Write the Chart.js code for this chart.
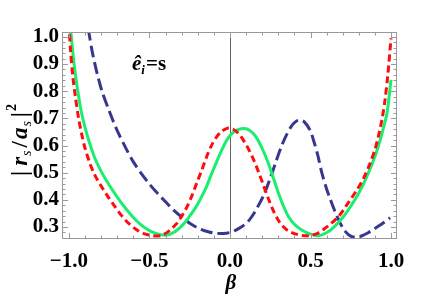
<!DOCTYPE html>
<html><head><meta charset="utf-8">
<script src="https://cdn.jsdelivr.net/npm/chart.js@4/dist/chart.umd.min.js"></script>
<style>html,body{margin:0;padding:0;background:#fff}#wrap{width:429px;height:298px}</style>
</head><body><div id="wrap"><canvas id="c" width="429" height="298"></canvas></div>
<script>
// ---- data ----
const redBeta = [-1.0, -0.99, -0.975, -0.96, -0.94, -0.92, -0.9, -0.87, -0.84, -0.80, -0.76, -0.72, -0.673, -0.63, -0.58, -0.53, -0.48, -0.45, -0.42, -0.38, -0.331, -0.3, -0.269, -0.238, -0.207, -0.175, -0.145, -0.115, -0.083, -0.05, -0.015, 0.02, 0.05, 0.083, 0.115, 0.145, 0.176, 0.207, 0.238, 0.269, 0.3, 0.33, 0.36, 0.4, 0.45, 0.49, 0.54, 0.58, 0.63, 0.683, 0.73, 0.787, 0.83, 0.87, 0.9, 0.921, 0.945, 0.963, 0.98, 1.0];
const redVal  = [1.05, 0.95, 0.85, 0.78, 0.70, 0.64, 0.59, 0.535, 0.492, 0.451, 0.414, 0.38, 0.342, 0.314, 0.29, 0.275, 0.268, 0.267, 0.27, 0.285, 0.313, 0.34, 0.372, 0.413, 0.461, 0.51, 0.559, 0.6, 0.632, 0.653, 0.664, 0.66, 0.646, 0.62, 0.587, 0.55, 0.505, 0.455, 0.405, 0.36, 0.325, 0.302, 0.287, 0.276, 0.269, 0.268, 0.276, 0.291, 0.314, 0.345, 0.385, 0.436, 0.48, 0.535, 0.585, 0.633, 0.7, 0.77, 0.86, 0.995];

const greenBeta = [-0.99, -0.97, -0.95, -0.92, -0.88, -0.84, -0.80, -0.75, -0.70, -0.65, -0.60, -0.55, -0.50, -0.45, -0.40, -0.35, -0.29, -0.25, -0.207, -0.175, -0.145, -0.115, -0.083, -0.05, -0.02, 0.01, 0.04, 0.07, 0.1, 0.13, 0.155, 0.176, 0.207, 0.238, 0.27, 0.3, 0.33, 0.362, 0.4, 0.445, 0.5, 0.548, 0.6, 0.642, 0.7, 0.745, 0.8, 0.849, 0.9, 0.93, 0.955, 0.975, 1.0];
const greenVal  = [1.03, 0.91, 0.82, 0.715, 0.625, 0.555, 0.505, 0.455, 0.41, 0.37, 0.335, 0.307, 0.287, 0.275, 0.27, 0.28, 0.31, 0.34, 0.378, 0.413, 0.45, 0.495, 0.54, 0.585, 0.62, 0.643, 0.656, 0.662, 0.662, 0.652, 0.637, 0.618, 0.58, 0.535, 0.48, 0.426, 0.38, 0.34, 0.31, 0.289, 0.274, 0.268, 0.279, 0.298, 0.335, 0.372, 0.425, 0.485, 0.56, 0.615, 0.67, 0.72, 0.842];

const blueBeta = [-0.88, -0.85, -0.8, -0.745, -0.7, -0.642, -0.6, -0.55, -0.5, -0.45, -0.4, -0.35, -0.29, -0.24, -0.186, -0.13, -0.083, -0.04, 0.0, 0.031, 0.07, 0.104, 0.135, 0.17, 0.21, 0.25, 0.285, 0.315, 0.345, 0.38, 0.41, 0.435, 0.46, 0.497, 0.52, 0.545, 0.57, 0.6, 0.621, 0.65, 0.683, 0.71, 0.74, 0.776, 0.82, 0.86, 0.89, 0.94, 0.994];
const blueVal  = [1.03, 0.93, 0.81, 0.72, 0.655, 0.585, 0.54, 0.497, 0.458, 0.424, 0.393, 0.362, 0.332, 0.31, 0.293, 0.282, 0.277, 0.276, 0.28, 0.287, 0.3, 0.315, 0.338, 0.372, 0.418, 0.48, 0.54, 0.59, 0.632, 0.67, 0.689, 0.694, 0.688, 0.657, 0.617, 0.565, 0.5, 0.44, 0.405, 0.36, 0.316, 0.288, 0.27, 0.262, 0.268, 0.28, 0.291, 0.31, 0.334];

const xTicks = [-1.0, -0.5, 0.0, 0.5, 1.0];
const yTicks = [0.3, 0.4, 0.5, 0.6, 0.7, 0.8, 0.9, 1.0];
const xRange = [-1.043, 1.037];
const yRange = [0.256, 1.018];

const pts = (b, v) => b.map((x, i) => ({x: x, y: v[i]}));
const SERIF = "'Liberation Serif', 'DejaVu Serif', serif";

const framePlugin = {
  id: 'frame',
  beforeDatasetsDraw(chart) {
    const {ctx, chartArea: a, scales: {x}} = chart;
    ctx.save();
    ctx.strokeStyle = '#666';
    ctx.lineWidth = 1;
    const px = Math.round(x.getPixelForValue(0)) + 0.5;
    ctx.beginPath(); ctx.moveTo(px, a.top); ctx.lineTo(px, a.bottom); ctx.stroke();
    ctx.restore();
  },
  afterDatasetsDraw(chart) {
    const {ctx, chartArea: a, scales: {x, y}} = chart;
    ctx.save();
    ctx.strokeStyle = '#999';
    ctx.lineWidth = 1;
    ctx.strokeRect(a.left + 0.5, a.top + 0.5, a.right - a.left - 1, a.bottom - a.top - 1);
    ctx.beginPath();
    for (let k = -10; k <= 10; k++) {
      const v = k / 10;
      const p = Math.round(x.getPixelForValue(v)) + 0.5;
      const len = (k % 5 === 0) ? 6 : 3.5;
      ctx.moveTo(p, a.bottom); ctx.lineTo(p, a.bottom - len);
      ctx.moveTo(p, a.top); ctx.lineTo(p, a.top + len);
    }
    for (let k = 13; k <= 50; k++) {
      const v = k / 50;
      if (v < yRange[0] || v > yRange[1]) continue;
      const p = Math.round(y.getPixelForValue(v)) + 0.5;
      const len = (k % 5 === 0) ? 6 : 3.5;
      ctx.moveTo(a.left, p); ctx.lineTo(a.left + len, p);
      ctx.moveTo(a.right, p); ctx.lineTo(a.right - len, p);
    }
    ctx.stroke();
    ctx.restore();
  },
  afterDraw(chart) {
    const {ctx} = chart;
    ctx.save();
    ctx.fillStyle = '#000';
    ctx.textBaseline = 'alphabetic';
    ctx.textAlign = 'left';
    // annotation  ê_i = s
    let cx = 132;
    ctx.font = 'italic bold 21px ' + SERIF;
    ctx.fillText('ê', cx, 70); cx += ctx.measureText('ê').width;
    ctx.font = 'italic bold 13px ' + SERIF;
    ctx.fillText('i', cx, 74); cx += ctx.measureText('i').width + 1;
    ctx.font = 'bold 21px ' + SERIF;
    ctx.fillText('=s', cx, 70);
    // x title
    ctx.textAlign = 'center';
    ctx.font = 'italic bold 21px ' + SERIF;
    ctx.fillText('β', 231, 289);
    // y title, rotated
    ctx.textAlign = 'left';
    ctx.translate(27, 140);
    ctx.rotate(-Math.PI / 2);
    const parts = [
      ['|', 'bold 23px', 0, 5], ['r', 'italic bold 23px', 0, 1], ['s', 'italic 14px', 4, 3],
      ['/', 'bold 23px', 0, 2], ['a', 'italic bold 23px', 0, 1], ['s', 'italic 14px', 4, 4],
      ['|', 'bold 23px', 0, 1], ['2', 'bold 14px', -11, 0]
    ];
    let w = 0;
    parts.forEach(p => { ctx.font = p[1] + ' ' + SERIF; w += ctx.measureText(p[0]).width + p[3]; });
    let sx = -w / 2;
    parts.forEach(p => {
      ctx.font = p[1] + ' ' + SERIF;
      ctx.fillText(p[0], sx, p[2]);
      sx += ctx.measureText(p[0]).width + p[3];
    });
    ctx.restore();
  }
};

const fmt = v => {
  const s = Math.abs(v).toFixed(1);
  return v < -1e-9 ? '\u2212' + s : s;
};

new Chart(document.getElementById('c'), {
  type: 'line',
  data: {
    datasets: [
      {data: pts(redBeta, redVal), borderColor: '#ff0d0d', borderWidth: 3, borderDash: [7, 4]},
      {data: pts(greenBeta, greenVal), borderColor: '#1aee6e', borderWidth: 3},
      {data: pts(blueBeta, blueVal), borderColor: '#37378f', borderWidth: 3, borderDash: [12, 5]}
    ]
  },
  options: {
    responsive: false,
    animation: false,
    devicePixelRatio: 1,
    layout: {padding: {top: 32, right: 32, left: 0, bottom: 0}},
    elements: {
      point: {radius: 0},
      line: {tension: 0.3, fill: false, borderCapStyle: 'butt', borderJoinStyle: 'round'}
    },
    datasets: {line: {clip: 0}},
    plugins: {legend: {display: false}, tooltip: {enabled: false}},
    scales: {
      x: {
        type: 'linear', min: xRange[0], max: xRange[1],
        grid: {display: false, drawTicks: false}, border: {display: false},
        afterBuildTicks: s => { s.ticks = xTicks.map(v => ({value: v})); },
        afterFit: s => { s.height = 59; },
        ticks: {padding: 10, color: '#000', font: {family: SERIF, weight: 'bold', size: 21}, callback: v => fmt(v), maxRotation: 0, autoSkip: false}
      },
      y: {
        type: 'linear', min: yRange[0], max: yRange[1],
        grid: {display: false, drawTicks: false}, border: {display: false},
        afterBuildTicks: s => { s.ticks = yTicks.map(v => ({value: v})); },
        afterFit: s => { s.width = 62; },
        ticks: {padding: 3, color: '#000', font: {family: SERIF, weight: 'bold', size: 21}, callback: v => fmt(v), autoSkip: false}
      }
    }
  },
  plugins: [framePlugin]
});
</script>
</body></html>
